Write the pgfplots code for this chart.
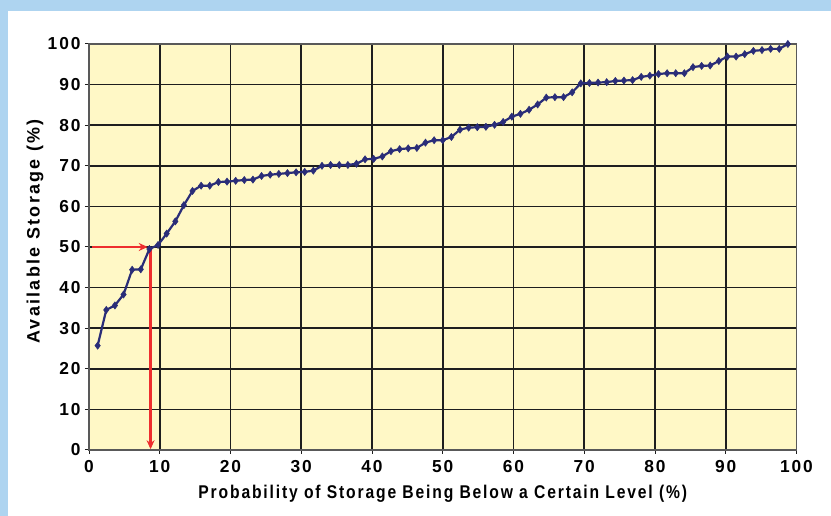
\documentclass[border=0pt]{standalone}
\usepackage{pgfplots}
\pgfplotsset{compat=1.18}
\usetikzlibrary{arrows.meta}
\usepackage{fontspec}
\setmainfont{Liberation Sans}
\newfontfamily\tickfont[LetterSpace=11]{Liberation Sans Bold}
\newfontfamily\ylabfont[LetterSpace=13]{Liberation Sans Bold}
\newfontfamily\titlefont[FakeStretch=0.85,LetterSpace=10]{Liberation Sans Bold}
\definecolor{bandblue}{HTML}{AED4F0}
\definecolor{plotbg}{HTML}{FFF8C6}
\definecolor{navy}{HTML}{2A2D78}
\definecolor{arrowred}{HTML}{EE2E2E}
\definecolor{gridc}{HTML}{1E1E1E}
\begin{document}
\begin{tikzpicture}[x=1bp,y=1bp]
\fill[bandblue] (-89,-66) rectangle (742,450);
\fill[white] (-81,-66) rectangle (742,439);
\begin{axis}[
  at={(0,0)}, anchor=origin,
  scale only axis, width=707.5bp, height=406bp,
  xmin=0, xmax=100, ymin=0, ymax=100,
  xtick={0,10,...,100}, ytick={0,10,...,100},
  axis background/.style={fill=plotbg},
  grid=major,
  major grid style={gridc, line width=1.7bp},
  axis line style={draw=gray!70!black, line width=1.2bp},
  tick align=outside, tickpos=left,
  major tick length=4bp,
  tick style={gridc, line width=1bp},
  /pgf/number format/assume math mode=true,
  ticklabel style={font=\tickfont\fontsize{17.4}{17.4}\selectfont},
  xticklabel style={yshift=-3bp},
  yticklabel style={xshift=-1bp},
  xlabel={\titlefont\fontsize{18.5}{18.5}\selectfont Probability of Storage Being Below a Certain Level (\%)},
  ylabel={\ylabfont\fontsize{18}{18}\selectfont Available Storage (\%)},
  xlabel style={at={(axis description cs:0.5,-0.108)}, anchor=center},
  ylabel style={at={(axis description cs:-0.0763,0.538)}, anchor=center},
  clip=false,
]
\addplot[navy, line width=2.2bp, mark=diamond*, mark size=3.6bp, mark options={fill=navy, draw=navy, line width=0.5bp}] coordinates {
(1.22,25.7) (2.44,34.5) (3.66,35.6) (4.88,38.3) (6.10,44.4) (7.32,44.5) (8.54,49.5) (9.76,50.5) (10.98,53.3) (12.20,56.3)
(13.41,60.3) (14.63,63.8) (15.85,65.1) (17.07,65.1) (18.29,66.0) (19.51,66.1) (20.73,66.3) (21.95,66.5) (23.17,66.6) (24.39,67.5)
(25.61,67.8) (26.83,68.0) (28.05,68.2) (29.27,68.4) (30.49,68.5) (31.71,68.8) (32.93,70.0) (34.15,70.2) (35.37,70.2) (36.59,70.2)
(37.80,70.5) (39.02,71.6) (40.24,71.7) (41.46,72.3) (42.68,73.6) (43.90,74.1) (45.12,74.3) (46.34,74.4) (47.56,75.7) (48.78,76.3)
(50.00,76.3) (51.22,77.1) (52.44,78.9) (53.66,79.4) (54.88,79.5) (56.10,79.6) (57.32,80.1) (58.54,80.8) (59.76,82.1) (60.98,82.8)
(62.20,83.8) (63.41,85.1) (64.63,86.8) (65.85,86.9) (67.07,86.9) (68.29,88.1) (69.51,90.3) (70.73,90.4) (71.95,90.5) (73.17,90.6)
(74.39,90.9) (75.61,91.0) (76.83,91.1) (78.05,91.9) (79.27,92.2) (80.49,92.6) (81.71,92.8) (82.93,92.8) (84.15,92.8) (85.37,94.3)
(86.59,94.6) (87.80,94.7) (89.02,95.8) (90.24,96.9) (91.46,96.9) (92.68,97.5) (93.90,98.3) (95.12,98.5) (96.34,98.8) (97.56,98.8)
(98.78,100.0)
};
\addplot[arrowred, line width=2.4bp, -{Stealth[length=9bp,width=8bp]}, mark=none] coordinates {(0.4,50) (8.3,50)};
\addplot[arrowred, line width=2.4bp, -{Stealth[length=9bp,width=8bp]}, mark=none] coordinates {(8.7,49.6) (8.7,0.2)};
\end{axis}
\pgfresetboundingbox
\useasboundingbox (-89,-66) rectangle (742,450);
\end{tikzpicture}
\end{document}
